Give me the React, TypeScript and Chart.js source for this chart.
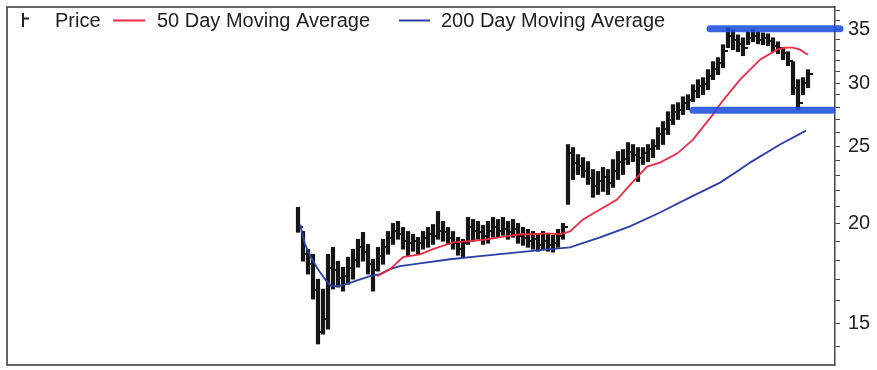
import React, { useEffect, useRef } from "react";
import { Chart, registerables } from "chart.js";

Chart.register(...registerables);

// ---- data ----
const seriesNames = ["Price", "50 Day Moving Average", "200 Day Moving Average"];

// price bars (one per index 0..102)
const barHigh = [
  20.96, 19.55, 18.57, 18.3, 17.03, 16.55, 18.3, 18.67, 17.94, 17.63,
  18.15, 18.57, 19.11, 19.5, 18.83, 18.04, 18.67, 19.11, 19.55, 20.01,
  20.13, 19.78, 19.55, 19.39, 19.22, 19.55, 19.78, 19.95, 20.71, 20.13,
  19.78, 19.55, 19.22, 19.11, 20.36, 20.24, 20.13, 19.9, 20.13, 20.36,
  20.24, 20.36, 20.13, 20.24, 20.01, 19.78, 19.67, 19.55, 19.44, 19.55,
  19.39, 19.33, 19.67, 20.01, 25.13, 24.91, 24.41, 24.2, 23.92, 23.38,
  23.25, 23.52, 23.38, 24.06, 24.63, 24.77, 25.27, 25.13, 24.91, 24.91,
  25.13, 25.49, 26.39, 26.85, 27.63, 28.2, 28.36, 28.85, 29.02, 29.87,
  30.31, 30.49, 31.2, 31.93, 32.3, 33.53, 35.2, 35.0, 34.5, 34.21,
  34.8, 35.0, 34.8, 34.7, 34.6, 34.21, 33.82, 33.24, 32.86, 31.93,
  30.31, 30.49, 31.2,
];
const barLow = [
  19.5, 17.94, 17.28, 16.08, 14.12, 14.53, 14.74, 16.55, 16.64, 16.45,
  16.78, 17.03, 17.63, 17.94, 17.28, 16.45, 17.43, 17.78, 18.3, 18.83,
  19.11, 18.57, 18.2, 18.46, 18.3, 18.57, 18.67, 18.83, 19.11, 19.0,
  18.83, 18.57, 18.25, 18.15, 18.83, 19.0, 19.11, 18.83, 18.89, 19.22,
  19.22, 19.33, 19.11, 19.22, 18.89, 18.78, 18.67, 18.57, 18.46, 18.57,
  18.46, 18.41, 18.67, 19.11, 21.14, 22.71, 23.04, 22.85, 22.39, 21.57,
  21.75, 21.94, 21.75, 22.2, 22.71, 23.04, 23.72, 23.92, 22.58, 23.72,
  23.92, 24.2, 24.77, 25.13, 25.86, 26.62, 27.01, 27.4, 27.79, 28.45,
  28.77, 29.02, 29.44, 30.31, 30.75, 31.38, 33.24, 33.05, 32.86, 32.48,
  33.53, 33.82, 33.62, 33.53, 33.43, 32.86, 32.67, 32.11, 31.56, 29.02,
  27.79, 29.02, 29.61,
];
const barClose = [
  19.8, 18.3, 17.8, 16.5, 14.6, 15.2, 17.6, 17.5, 17.1, 17.2,
  17.6, 18.0, 18.7, 18.4, 17.8, 17.5, 18.2, 18.7, 19.2, 19.6,
  19.4, 19.0, 18.9, 19.0, 18.9, 19.2, 19.4, 19.3, 19.6, 19.5,
  19.2, 18.9, 18.6, 18.9, 19.8, 19.6, 19.5, 19.3, 19.6, 19.8,
  19.6, 19.7, 19.5, 19.7, 19.3, 19.2, 19.0, 19.1, 18.8, 19.0,
  18.8, 18.9, 19.3, 19.8, 24.5, 23.8, 23.6, 23.3, 22.8, 22.3,
  22.6, 22.9, 22.5, 23.3, 23.9, 24.1, 24.6, 24.4, 24.2, 24.5,
  24.8, 25.0, 25.9, 26.3, 27.0, 27.6, 27.8, 28.3, 28.6, 29.3,
  29.8, 29.9, 30.6, 31.3, 31.8, 32.9, 34.4, 34.0, 33.6, 33.2,
  34.2, 34.4, 34.0, 34.2, 33.9, 33.4, 33.2, 32.7, 32.0, 29.6,
  28.3, 30.0, 30.8,
];

// 50 day moving average (bar-index position, value)
const ma50X = [15.8, 18.4, 21, 24.4, 27, 31, 33.8, 37.8, 41.8, 44.4, 47, 49.8, 52.4, 54.4, 57, 60.4, 63.8, 67, 69.8, 72.4, 75.8, 79, 80.4, 82.8, 84.8, 88.4, 92.4, 95.8, 97.4, 99, 100.4, 102];
const ma50 = [17.18, 17.53, 18.15, 18.3, 18.57, 18.94, 19.0, 19.11, 19.28, 19.39, 19.39, 19.44, 19.39, 19.55, 20.24, 20.83, 21.44, 22.58, 23.58, 23.85, 24.48, 25.49, 26.16, 27.32, 28.44, 30.31, 32.11, 33.05, 33.24, 33.24, 33.05, 32.58];

// 200 day moving average
const ma200X = [0.4, 1.4, 2.8, 4, 5.4, 6.6, 8, 9.4, 11.4, 14.4, 16.4, 18.4, 20.4, 24.4, 30.4, 36.4, 44.4, 50.4, 54.4, 60.4, 66.4, 72.4, 78.4, 84.4, 88.4, 90.4, 96.4, 101.6];
const ma200 = [19.95, 18.83, 18.04, 17.53, 17.03, 16.69, 16.69, 16.78, 16.93, 17.18, 17.28, 17.53, 17.68, 17.83, 18.04, 18.2, 18.41, 18.57, 18.67, 19.22, 19.84, 20.65, 21.57, 22.51, 23.38, 23.85, 25.13, 26.16];

// hand-drawn highlighter marks
const highlightLevels = [35.1, 27.75];
const highlightFrom = [82.4, 79];
const highlightTo = [108.4, 106.8];

// axis
const xMin = -58.2;
const xMax = 107.4;
const yMin = 13.29;
const yMax = 37.39;
const yTickValues = [14, 15, 16, 17, 18, 19, 20, 21, 22, 23, 24, 25, 26, 27, 28, 29, 30, 31, 32, 33, 34, 35, 36, 37];
const yLabelValues = [15, 20, 25, 30, 35];

const FONT = '"Liberation Sans", Arial, Helvetica, sans-serif';
const RED = "#ec2a44";
const BLUE = "#2b3fa8";
const INK = "#151515";

function makeCloseTick(): HTMLCanvasElement {
  const c = document.createElement("canvas");
  c.width = 10;
  c.height = 2;
  const g = c.getContext("2d");
  if (g) {
    g.fillStyle = INK;
    g.fillRect(5, 0, 5, 2);
  }
  return c;
}

const framePlugin = {
  id: "frameAndLegend",
  afterDraw(chart: any) {
    const { ctx, chartArea: a } = chart;
    ctx.save();
    // frame
    ctx.strokeStyle = "#333";
    ctx.lineWidth = 1.5;
    ctx.beginPath();
    ctx.moveTo(a.right, a.top);
    ctx.lineTo(a.left, a.top);
    ctx.lineTo(a.left, a.bottom);
    ctx.lineTo(a.right, a.bottom);
    ctx.stroke();

    // legend
    const baseY = 26.5;
    const lineY = 20.5;
    ctx.font = `20px ${FONT}`;
    ctx.fillStyle = "#222";
    ctx.textBaseline = "alphabetic";
    // price glyph
    ctx.strokeStyle = "#222";
    ctx.lineWidth = 2;
    ctx.beginPath();
    ctx.moveTo(23, 13);
    ctx.lineTo(23, 27);
    ctx.moveTo(23, 18.5);
    ctx.lineTo(29, 18.5);
    ctx.stroke();
    ctx.fillText(seriesNames[0], 55, baseY);
    // 50 day
    ctx.strokeStyle = RED;
    ctx.lineWidth = 2;
    ctx.beginPath();
    ctx.moveTo(113, lineY);
    ctx.lineTo(145, lineY);
    ctx.stroke();
    ctx.fillText(seriesNames[1], 157, baseY);
    // 200 day
    ctx.strokeStyle = BLUE;
    ctx.beginPath();
    ctx.moveTo(399, lineY);
    ctx.lineTo(430, lineY);
    ctx.stroke();
    ctx.fillText(seriesNames[2], 441, baseY);
    ctx.restore();
  },
};

export default function App() {
  const ref = useRef<HTMLCanvasElement | null>(null);

  useEffect(() => {
    if (!ref.current) return;
    const tick = makeCloseTick();
    const highlightSets = highlightLevels.map((lvl, k) => ({
      type: "line" as const,
      label: "highlight" + k,
      data: [
        { x: highlightFrom[k], y: lvl },
        { x: highlightTo[k], y: lvl },
      ],
      borderColor: "rgba(28,78,222,0.88)",
      borderWidth: 7,
      borderCapStyle: "round" as const,
      pointRadius: 0,
      clip: false as any,
      order: 0,
    }));

    const chart = new Chart(ref.current, {
      type: "bar",
      data: {
        datasets: [
          ...highlightSets,
          {
            type: "line",
            label: seriesNames[1],
            data: ma50X.map((x, i) => ({ x, y: ma50[i] })),
            borderColor: RED,
            borderWidth: 1.8,
            pointRadius: 0,
            tension: 0,
            order: 1,
          },
          {
            type: "line",
            label: seriesNames[2],
            data: ma200X.map((x, i) => ({ x, y: ma200[i] })),
            borderColor: BLUE,
            borderWidth: 1.8,
            pointRadius: 0,
            tension: 0,
            order: 1,
          },
          {
            type: "scatter",
            label: seriesNames[0] + " close",
            data: barClose.map((c, i) => ({ x: i, y: c })),
            pointStyle: tick as any,
            pointRadius: 2,
            order: 2,
          },
          {
            type: "bar",
            label: seriesNames[0],
            data: barHigh.map((h, i) => ({ x: i, y: [barLow[i], h] })) as any,
            backgroundColor: INK,
            borderWidth: 0,
            barThickness: 3.5,
            order: 3,
          },
        ] as any,
      },
      options: {
        responsive: false,
        animation: false,
        events: [],
        layout: { padding: { left: 7, top: 7, bottom: 4, right: 0 } },
        plugins: {
          legend: { display: false },
          tooltip: { enabled: false },
          title: { display: false },
        },
        scales: {
          x: {
            type: "linear",
            min: xMin,
            max: xMax,
            display: false,
            offset: false,
          },
          y: {
            type: "logarithmic",
            position: "right",
            min: yMin,
            max: yMax,
            afterBuildTicks: (s: any) => {
              s.ticks = yTickValues.map((v) => ({ value: v }));
            },
            afterFit: (s: any) => {
              s.width = 42;
              s.paddingTop = 0;
              s.paddingBottom = 0;
            },
            ticks: {
              autoSkip: false,
              padding: 8,
              color: "#222",
              font: { family: FONT, size: 20 },
              callback: (v: any) => (yLabelValues.includes(Number(v)) ? String(v) : ""),
            },
            grid: {
              drawOnChartArea: false,
              drawTicks: true,
              tickLength: 5,
              color: "#444",
              lineWidth: 1,
            },
            border: { display: true, color: "#444", width: 1.5 },
          },
        },
      } as any,
      plugins: [framePlugin],
    });
    return () => chart.destroy();
  }, []);

  return (
    <div style={{ position: "fixed", left: 0, top: 0, width: 877, height: 370, background: "#fff" }}>
      <canvas ref={ref} width={877} height={370} style={{ display: "block" }} />
    </div>
  );
}
